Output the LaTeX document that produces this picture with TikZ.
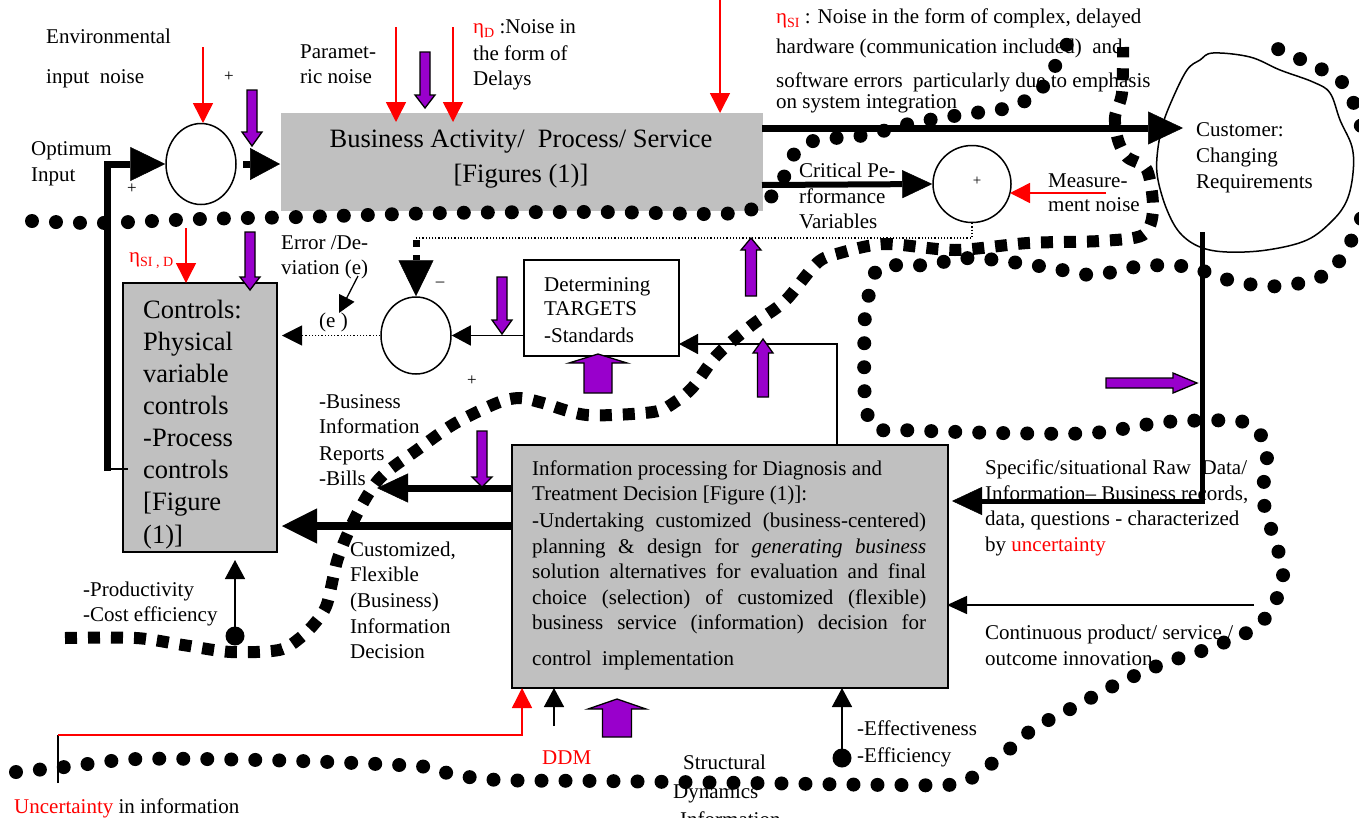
\documentclass[tikz,border=0pt]{standalone}
\usepackage{fontspec}
\setmainfont{Liberation Serif}
\usetikzlibrary{arrows.meta,shapes.geometric}
\definecolor{boxgray}{HTML}{C0C0C0}
\definecolor{purp}{HTML}{9900CC}
\newcommand\fsN{\fontsize{21}{25}\selectfont}
\newcommand\fsB{\fontsize{26.5}{32}\selectfont}
\newcommand\fsS{\fontsize{17}{17}\selectfont}
\newcommand\subT[1]{\raisebox{-4pt}{\fontsize{14}{14}\selectfont #1}}
% vertical block arrow: x, ytail, ybase, shaft half width, head half width, ytip
\newcommand\purpV[6]{\draw[purparrow] (#1-#4,#2) -- (#1-#4,#3) -- (#1-#5,#3) -- (#1,#6) -- (#1+#5,#3) -- (#1+#4,#3) -- (#1+#4,#2) -- cycle;}
% horizontal block arrow: y, xtail, xbase, shaft half width, head half width, xtip
\newcommand\purpH[6]{\draw[purparrow] (#2,#1-#4) -- (#3,#1-#4) -- (#3,#1-#5) -- (#6,#1) -- (#3,#1+#5) -- (#3,#1+#4) -- (#2,#1+#4) -- cycle;}
\tikzset{
  txt/.style={inner sep=0pt, anchor=base west, font=\fsN},
  btxt/.style={inner sep=0pt, anchor=base west, font=\fsB},
  ctxt/.style={inner sep=0pt, anchor=base, font=\fsB},
  sym/.style={inner sep=0pt, font=\fsS},
  redarr/.style={draw=red, line width=1.5pt, -{Triangle[length=20pt,width=20pt]}},
  thinarr/.style={draw=black, line width=1.5pt, -{Triangle[length=19pt,width=20pt]}},
  finedot/.style={draw=black, line width=1.2pt, dash pattern=on 1.2pt off 2pt},
  purparrow/.style={draw=black, fill=purp, line width=1.3pt, line join=miter},
  rounddots/.style={draw=black, line width=14pt, line cap=round, dash pattern=on 0pt off 24pt},
  squaredots/.style={draw=black, line width=12pt, line cap=butt, dash pattern=on 12pt off 11pt},
  sumcirc/.style={ellipse, draw=black, line width=1.5pt, fill=white, inner sep=0pt},
  graybox/.style={rectangle, anchor=north west, fill=boxgray, draw=black, line width=1.5pt, inner sep=0pt},
}
\begin{document}
\begin{tikzpicture}[x=1pt,y=-1pt]
\useasboundingbox (0,0) rectangle (1359,817);
\clip (0,0) rectangle (1359,817);

% ---------- boxes ----------
\node[graybox, draw=none, minimum width=482pt, minimum height=98pt] (biz) at (280,112) {};
\node[graybox, minimum width=154pt, minimum height=269pt] (ctrl) at (122,282) {};
\node[rectangle, anchor=north west, fill=white, draw=black, line width=1.5pt, inner sep=0pt, minimum width=155pt, minimum height=96pt] (targ) at (523,259) {};
\node[graybox, minimum width=436pt, minimum height=243pt] (info) at (511,444) {};

% ---------- customer blob ----------
\draw[line width=1.5pt] plot[smooth cycle, tension=0.6] coordinates {(1213,53) (1250,57) (1280,70) (1313,82) (1330,93) (1340,120) (1352,147) (1353,173) (1347,200) (1333,220) (1307,240) (1267,250) (1227,252) (1200,247) (1180,233) (1167,210) (1158,180) (1157,157) (1162,127) (1172,100) (1187,70) (1200,60)};

% ---------- dotted curves ----------
\draw[rounddots] plot[smooth, tension=0.5] coordinates {(32,221) (100,223) (200,219) (300,217) (445,213) (600,212) (712,214) (750,210) (776,192) (787,170) (797,150) (817,140) (866,135) (913,123) (960,115) (1008,108) (1030,98) (1042,88) (1054,68) (1073,33)};
\draw[rounddots] plot[smooth, tension=0.5] coordinates {(16,772) (65,767) (137,759) (260,760) (355,763) (428,767) (451,774) (499,780) (600,781) (750,783) (900,785) (960,783) (999,758) (1033,729) (1074,707) (1117,684) (1162,664) (1207,649) (1252,630) (1270,611) (1283,580) (1277,546) (1265,510) (1264,477) (1267,453) (1258,431) (1238,421) (1165,422) (1093,433) (1000,433) (900,430) (875,428) (865,400) (865,313) (871,290) (880,267) (926,265) (973,258) (1046,267) (1093,275) (1142,266) (1189,267) (1236,282) (1283,286) (1328,273) (1353,237) (1372,180) (1360,123) (1343,83) (1302,60) (1257,40)};
\draw[squaredots] plot[smooth, tension=0.5] coordinates {(65,638) (136,638) (183,645) (231,652) (279,650) (300,638) (315,623) (327,604) (338,558) (357,514) (380,478) (417,450) (454,424) (497,403) (520,398) (543,403) (587,415) (653,412) (675,402) (693,387) (717,355) (752,325) (785,301) (817,263) (840,253) (885,244) (955,250) (1028,243) (1100,241) (1143,235) (1153,210) (1147,170) (1127,157) (1118,140) (1115,117) (1122,93) (1123,47)};

% ---------- summing junctions ----------
\node[sumcirc, minimum width=70pt, minimum height=81pt] (s1) at (201,164) {};
\node[sumcirc, minimum width=78pt, minimum height=77pt] (s2) at (972,184) {};
\node[sumcirc, minimum width=70pt, minimum height=77pt] (s3) at (416,335.5) {};

% ---------- named free ends ----------
\coordinate (optStart) at (107,471);
\coordinate (optCorner) at (107,164);
\coordinate (ctrlStubA) at (104,469);
\coordinate (ctrlStubB) at (128,469);
\coordinate (s1out) at (243,164);
\coordinate (bizOutTop) at (762,128);
\coordinate (custIn) at (1183,128);
\coordinate (bizOutLow) at (762,185);
\coordinate (measStart) at (1106,193);
\coordinate (measEnd) at (1010,193);
\coordinate (fbCorner) at (416,238);
\coordinate (fbSqA) at (416,240);
\coordinate (fbSqB) at (416,247);
\coordinate (fbStub) at (416,255);
\coordinate (errFrom) at (358,276);
\coordinate (errTo) at (339,313);
\coordinate (eTip) at (282,335.5);
\coordinate (infoTop) at (837,444);
\coordinate (targIn) at (679,344);
\coordinate (billsFrom) at (511,488);
\coordinate (billsTo) at (377,488);
\coordinate (decFrom) at (511,526);
\coordinate (decTo) at (282,526);
\coordinate (custOut) at (1202,232);
\coordinate (rawTo) at (952,501);
\coordinate (innovFrom) at (1254,605);
\coordinate (innovTo) at (947,605);
\coordinate (prodDot) at (235,636);
\coordinate (prodTo) at (235,560);
\coordinate (effDot) at (842,758);
\coordinate (effTo) at (842,688);
\coordinate (blkFrom) at (554,726);
\coordinate (blkTo) at (554,688);
\coordinate (uncA) at (58,783);
\coordinate (uncB) at (58,735);
\coordinate (ddmTo) at (522,688);
\coordinate (envA) at (203,47);
\coordinate (envB) at (203,123);
\coordinate (parA) at (396,27);
\coordinate (parB) at (396,122);
\coordinate (delA) at (453,27);
\coordinate (delB) at (453,122);
\coordinate (siA) at (720,-2);
\coordinate (siB) at (720,113);
\coordinate (sidA) at (186,228);
\coordinate (sidB) at (186,283);

% ---------- heavy connectors ----------
\draw[line width=1.3pt] (ctrlStubA) -- (ctrlStubB);
\draw[line width=7pt, line join=miter, -{Triangle[length=35pt,width=34pt,line width=0.5pt]}] (optStart) -- (optCorner) -- (s1.west);
\draw[line width=7pt, -{Triangle[length=30pt,width=32pt,line width=0.5pt]}] (s1out) -- (biz.west |- s1out);
\draw[line width=7pt, -{Triangle[length=35pt,width=33pt,line width=0.5pt]}] (bizOutTop) -- (custIn);
\draw[line width=6pt, -{Triangle[length=30pt,width=28pt,line width=0.5pt]}] (bizOutLow) -- (s2.west);
\draw[line width=7pt] (fbSqA) -- (fbSqB);
\draw[line width=7pt, -{Triangle[length=36pt,width=35pt,line width=0.5pt]}] (fbStub) -- (s3.north);
\draw[line width=7pt, -{Triangle[length=31pt,width=29pt,line width=0.5pt]}] (billsFrom) -- (billsTo);
\draw[line width=8pt, -{Triangle[length=35pt,width=35pt,line width=0.5pt]}] (decFrom) -- (decTo);
\draw[line width=5pt, line join=miter, -{Triangle[length=30pt,width=28pt,line width=0.5pt]}] (custOut) |- (rawTo);

% ---------- thin connectors ----------
\draw[finedot] (s2.south) |- (fbCorner);
\draw[thinarr] (targ.west |- s3.east) -- (s3.east);
\draw[finedot, -{Triangle[length=20pt,width=20pt,line width=0.5pt]}] (s3.west) -- (eTip);
\draw[line width=1.3pt, -{Triangle[length=17pt,width=17pt]}] (errFrom) -- (errTo);
\draw[thinarr] (infoTop) |- (targIn);
\draw[thinarr, -{Triangle[length=20pt,width=18pt]}] (innovFrom) -- (innovTo);
\fill (prodDot) circle (9.5pt);
\draw[thinarr] (prodDot) -- (prodTo);
\fill (effDot) circle (9.5pt);
\draw[thinarr] (effDot) -- (effTo);
\draw[thinarr] (blkFrom) -- (blkTo);
\draw[line width=1.2pt] (uncA) -- (uncB);
\draw[redarr] (uncB) -| (ddmTo);
\draw[redarr] (envA) -- (envB);
\draw[redarr] (parA) -- (parB);
\draw[redarr] (delA) -- (delB);
\draw[redarr] (siA) -- (siB);
\draw[redarr] (sidA) -- (sidB);
\draw[redarr] (measStart) -- (measEnd);

% ---------- purple block arrows ----------
\purpV{252}{90}{132}{5}{10}{146}
\purpV{425}{52}{95}{5}{10}{108}
\purpV{250}{232}{277}{5}{10}{290}
\purpV{502}{277}{320}{5}{10}{334}
\purpV{751}{296}{250}{5.5}{10}{238}
\purpV{763}{397}{353}{5.5}{10}{339}
\purpV{598}{393}{363}{14}{29}{354}
\purpV{482}{431}{477}{5}{10}{487}
\purpV{617}{737}{709}{14.5}{29}{699}
\purpH{383}{1106}{1173}{5}{10}{1197}

% ---------- texts ----------
\node[txt] (tEnv1) at (46,43) {Environmental};
\node[txt] (tEnv2) at (46,83) {input~~noise};
\node[sym] (tPlus1) at (229,77) {+};
\node[sym] (tPlus2) at (132,189) {+};
\node[txt] (tOpt1) at (31,155) {Optimum};
\node[txt] (tOpt2) at (31,181) {Input};
\node[txt] (tPar1) at (300,58) {Paramet-};
\node[txt] (tPar2) at (300,83) {ric noise};
\node[txt] (tDel1) at (473,33) {{\color{red}η\subT{D}} :Noise in};
\node[txt] (tDel2) at (473,60) {the form of};
\node[txt] (tDel3) at (473,85) {Delays};
\node[txt] (tSi1) at (776,23) {{\color{red}η\subT{SI}} : Noise in the form of complex, delayed};
\node[txt] (tSi2) at (776,53) {hardware (communication included)~ and};
\node[txt] (tSi3) at (776,87) {software errors~ particularly due to emphasis};
\node[txt] (tSi4) at (776,108) {on system integration};
\node[ctxt] (tBiz1) at (521,147) {Business Activity/~ Process/ Service};
\node[ctxt] (tBiz2) at (521,182) {[Figures (1)]};
\node[txt] (tCpv1) at (799,177) {Critical Pe-};
\node[txt] (tCpv2) at (799,203) {rformance};
\node[txt] (tCpv3) at (799,228) {Variables};
\node[inner sep=0pt, font=\fontsize{15}{15}\selectfont] (tPlus3) at (977,181) {+};
\node[txt] (tMeas1) at (1048,187) {Measure-};
\node[txt] (tMeas2) at (1048,211) {ment noise};
\node[txt] (tCus1) at (1196,136) {Customer:};
\node[txt] (tCus2) at (1196,162) {Changing};
\node[txt] (tCus3) at (1196,188) {Requirements};
\node[txt, text=red] (tSid) at (129,262) {η\subT{SI , D}};
\node[txt] (tErr1) at (281,249) {Error /De-};
\node[txt] (tErr2) at (281,274) {viation (e)};
\node[txt] (tErr3) at (319,327) {(e )};
\node[sym] (tMinus) at (440,284) {–};
\node[sym] (tPlus4) at (472,381) {+};
\node[txt] (tTar1) at (544,291) {Determining};
\node[txt] (tTar2) at (544,315) {TARGETS};
\node[txt] (tTar3) at (544,342) {-Standards};
\node[btxt] (tC1) at (143,318) {Controls:};
\node[btxt] (tC2) at (143,350) {Physical};
\node[btxt] (tC3) at (143,382) {variable};
\node[btxt] (tC4) at (143,414) {controls};
\node[btxt] (tC5) at (143,446) {-Process};
\node[btxt] (tC6) at (143,478) {controls};
\node[btxt] (tC7) at (143,510) {[Figure};
\node[btxt] (tC8) at (143,543) {(1)]};
\node[txt] (tBil1) at (319,408) {-Business};
\node[txt] (tBil2) at (319,433) {Information};
\node[txt] (tBil3) at (319,460) {Reports};
\node[txt] (tBil4) at (319,485) {-Bills};
\node[txt] (tDec1) at (350,556) {Customized,};
\node[txt] (tDec2) at (350,581) {Flexible};
\node[txt] (tDec3) at (350,607) {(Business)};
\node[txt] (tDec4) at (350,633) {Information};
\node[txt] (tDec5) at (350,658) {Decision};
\node[txt] (tPro1) at (83,596) {-Productivity};
\node[txt] (tPro2) at (83,621) {-Cost efficiency};
\node[txt] (tRaw1) at (985,474) {Specific/situational Raw~ Data/};
\node[txt] (tRaw2) at (985,500) {Information– Business records,};
\node[txt] (tRaw3) at (985,525) {data, questions - characterized};
\node[txt] (tRaw4) at (985,551) {by {\color{red}uncertainty}};
\node[txt] (tInn1) at (985,639) {Continuous product/ service /};
\node[txt] (tInn2) at (985,665) {outcome innovation};
\node[txt] (tEff1) at (857,735) {-Effectiveness};
\node[txt] (tEff2) at (857,762) {-Efficiency};
\node[txt, text=red] (tDdm) at (542,764) {DDM};
\node[txt] (tStr1) at (683,769) {Structural};
\node[txt] (tStr2) at (673,798) {Dynamics};
\node[txt] (tStr3) at (680,826) {Information};
\node[txt] (tUnc) at (14,813) {{\color{red}Uncertainty} in information};
% info box text
\node[txt] (tI1) at (532,475) {Information processing for Diagnosis and};
\node[txt] (tI2) at (532,500) {Treatment Decision [Figure (1)]:};
\node[txt] (tI3) at (532,527) {\makebox[394pt][s]{-Undertaking customized (business-centered)}};
\node[txt] (tI4) at (532,553) {\makebox[394pt][s]{planning \& design for \textit{generating business}}};
\node[txt] (tI5) at (532,578) {\makebox[394pt][s]{solution alternatives for evaluation and final}};
\node[txt] (tI6) at (532,604) {\makebox[394pt][s]{choice (selection) of customized (flexible)}};
\node[txt] (tI7) at (532,629) {\makebox[394pt][s]{business service (information) decision for}};
\node[txt] (tI8) at (532,665) {control~ implementation};
\end{tikzpicture}
\end{document}
